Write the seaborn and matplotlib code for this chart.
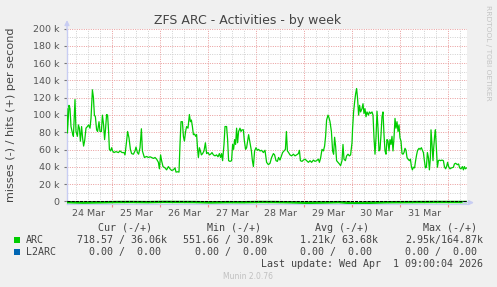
import matplotlib
matplotlib.use("Agg")
import matplotlib.pyplot as plt
import matplotlib.dates as mdates
from matplotlib.ticker import FuncFormatter, MultipleLocator
from matplotlib.patches import Rectangle
import pandas as pd
import seaborn as sns

# ---------------- data ----------------
START = "2026-03-24 01:20"
SPAN_HOURS = 200

hit_hours = [
    0.0, 0.2, 1.0, 1.5, 2.0, 2.7, 3.2, 4.0, 4.5, 5.2,
    5.7, 6.2, 6.7, 7.3, 7.8, 8.3, 8.8, 9.5, 10.2, 10.8,
    11.5, 12.0, 12.7, 13.2, 13.7, 14.2, 14.8, 15.3, 16.0, 16.5,
    17.2, 17.7, 18.3, 18.8, 19.3, 19.8, 20.3, 20.8, 21.2, 21.8,
    22.3, 22.8, 23.5, 24.5, 25.7, 26.5, 27.5, 28.5, 29.0, 29.8,
    30.3, 31.0, 31.7, 32.3, 33.2, 34.0, 34.5, 35.2, 35.8, 36.5,
    37.2, 37.7, 38.2, 38.7, 39.8, 40.7, 41.5, 42.3, 43.2, 44.0,
    44.8, 45.7, 46.2, 46.8, 47.3, 48.0, 49.0, 49.8, 50.7, 51.5,
    52.3, 53.2, 54.0, 54.5, 55.3, 56.0, 56.5, 57.0, 57.7, 58.2,
    58.7, 59.3, 59.8, 60.5, 61.2, 61.7, 62.2, 62.7, 63.2, 63.8,
    64.3, 64.8, 65.3, 65.7, 66.2, 66.7, 67.2, 67.8, 68.5, 69.2,
    69.8, 70.5, 71.2, 71.8, 72.5, 73.2, 74.0, 74.8, 75.5, 76.2,
    76.8, 77.3, 77.8, 78.5, 79.0, 79.8, 80.3, 80.8, 81.5, 82.3,
    82.8, 83.3, 83.8, 84.3, 84.8, 85.3, 85.8, 86.5, 87.0, 87.5,
    88.2, 88.7, 89.3, 89.8, 90.3, 90.8, 91.5, 92.2, 92.7, 93.2,
    93.8, 94.5, 95.2, 95.8, 96.5, 97.3, 98.2, 99.0, 99.8, 100.7,
    101.5, 102.3, 103.2, 103.8, 104.5, 105.2, 105.8, 106.5, 107.2, 107.8,
    108.5, 109.2, 109.7, 110.2, 110.8, 111.5, 112.3, 113.2, 114.0, 114.8,
    115.7, 116.2, 116.7, 117.5, 118.2, 119.0, 119.8, 120.7, 121.5, 122.3,
    123.2, 124.0, 124.8, 125.7, 126.2, 126.8, 127.5, 128.2, 128.8, 129.3,
    129.8, 130.5, 131.0, 131.5, 132.2, 132.8, 133.3, 133.8, 134.3, 134.8,
    135.5, 136.2, 136.8, 137.5, 138.0, 138.5, 139.2, 139.8, 140.5, 141.2,
    141.8, 142.5, 142.8, 143.3, 143.8, 144.3, 144.8, 145.3, 145.8, 146.3,
    146.8, 147.5, 148.0, 148.5, 149.0, 149.5, 150.0, 150.7, 151.2, 151.8,
    152.5, 153.0, 153.5, 154.0, 154.5, 155.0, 155.5, 156.0, 156.5, 157.0,
    157.5, 158.0, 158.5, 159.0, 159.5, 160.0, 160.5, 161.0, 161.5, 162.0,
    162.5, 163.0, 163.5, 164.0, 164.5, 165.0, 165.5, 166.0, 166.5, 167.0,
    167.5, 168.0, 168.5, 169.0, 169.5, 170.0, 170.5, 171.2, 171.7, 172.2,
    172.7, 173.2, 173.8, 174.3, 174.8, 175.3, 176.0, 176.5, 177.2, 177.7,
    178.2, 178.7, 179.2, 179.7, 180.2, 180.7, 181.2, 181.7, 182.0, 182.5,
    183.0, 183.3, 183.8, 184.2, 184.7, 185.2, 185.7, 186.2, 186.8, 187.5,
    188.2, 188.7, 189.3, 189.8, 190.3, 190.8, 191.5, 192.3, 193.2, 193.7,
    194.3, 195.2, 195.8, 196.3, 197.0, 197.7, 198.2, 198.7, 199.2, 199.8,
]
hit_values_k = [
    107.3, 79.1, 111.1, 107.3, 86.6, 79.1, 75.3, 117.8, 80.9, 75.3,
    88.5, 84.7, 69.7, 86.6, 73.4, 64.0, 69.7, 84.7, 86.6, 88.5,
    84.7, 96.0, 129.1, 120.5, 99.8, 97.9, 82.8, 80.9, 92.2, 80.9,
    80.9, 99.8, 88.5, 71.5, 84.7, 100.5, 99.8, 80.9, 60.2, 58.4,
    62.1, 58.4, 56.5, 57.6, 56.5, 58.4, 56.5, 56.5, 53.8, 69.7,
    80.9, 73.4, 60.2, 55.3, 54.6, 58.4, 62.9, 56.5, 54.6, 62.1,
    84.0, 58.4, 54.6, 50.8, 52.0, 50.8, 51.6, 50.8, 49.7, 50.8,
    48.9, 45.2, 37.7, 53.8, 47.1, 40.3, 38.8, 36.5, 40.3, 37.7,
    35.8, 36.5, 38.8, 33.9, 34.3, 33.9, 65.9, 92.2, 92.2, 75.3,
    69.7, 80.9, 86.6, 84.7, 100.5, 92.2, 94.1, 86.6, 77.2, 77.9,
    75.3, 77.2, 60.2, 50.8, 62.1, 58.4, 53.8, 55.3, 58.4, 67.8,
    55.3, 56.5, 53.8, 54.6, 56.5, 53.8, 52.7, 53.8, 51.6, 55.3,
    50.8, 55.3, 47.1, 65.9, 86.6, 86.6, 71.5, 47.1, 46.3, 47.1,
    65.9, 60.2, 71.5, 65.9, 84.7, 67.8, 80.9, 84.7, 80.9, 82.8,
    82.8, 69.7, 60.2, 62.1, 69.7, 77.2, 67.8, 58.4, 47.1, 40.3,
    58.4, 62.1, 59.1, 60.2, 58.4, 59.1, 56.5, 59.1, 45.2, 42.5,
    44.1, 50.8, 55.3, 53.8, 47.1, 46.3, 50.8, 47.8, 52.7, 56.5,
    58.4, 60.2, 80.9, 58.4, 56.5, 53.8, 52.7, 54.6, 52.7, 53.8,
    55.3, 59.1, 47.1, 46.3, 47.8, 48.9, 47.1, 45.2, 47.1, 45.2,
    47.8, 46.3, 47.1, 48.9, 45.2, 50.1, 60.2, 58.4, 64.0, 75.3,
    94.1, 99.8, 96.8, 92.2, 80.9, 58.4, 54.6, 74.2, 64.0, 47.1,
    45.2, 43.3, 41.4, 47.1, 65.9, 48.9, 47.1, 52.7, 54.6, 52.7,
    53.8, 67.8, 84.7, 103.5, 114.8, 124.2, 130.6, 118.6, 99.8, 111.1,
    103.5, 107.3, 113.0, 101.7, 107.3, 97.9, 103.5, 99.8, 103.5, 101.7,
    103.5, 99.8, 73.4, 54.6, 73.4, 104.3, 84.7, 58.4, 60.2, 77.2,
    97.9, 103.5, 77.2, 58.4, 54.6, 71.5, 69.7, 58.4, 71.5, 65.9,
    75.3, 58.4, 73.4, 96.0, 84.7, 92.2, 80.9, 88.5, 73.4, 69.7,
    55.3, 54.6, 56.5, 61.4, 59.1, 50.8, 48.9, 47.1, 48.9, 40.3,
    36.5, 39.5, 38.8, 47.1, 53.8, 59.1, 61.4, 60.2, 62.1, 59.1,
    56.5, 47.1, 38.8, 39.5, 56.5, 50.8, 36.5, 50.8, 82.8, 65.9,
    47.1, 60.2, 75.3, 82.8, 62.1, 39.5, 47.1, 47.8, 47.1, 47.8,
    47.1, 40.3, 37.7, 40.3, 45.2, 40.3, 37.7, 38.8, 39.5, 43.3,
    44.1, 42.5, 43.3, 38.8, 37.7, 40.3, 36.5, 40.3, 37.7, 38.8,
]

miss_hours = [0, 8, 16, 24, 32, 40, 48, 56, 64, 72, 80, 88, 96,
              104, 112, 120, 128, 136, 144, 152, 160, 168, 176, 184, 192, 200]
miss_values_k = [0.9, 1.4, 1.1, 0.8, 0.7, 0.9, 0.6, 0.7, 0.8, 1.2, 0.9, 1.0, 0.7,
                 0.8, 1.1, 1.6, 1.3, 0.9, 2.2, 1.5, 1.0, 0.9, 0.8, 0.7, 0.7, 0.72]

legend_names = ["ARC", "L2ARC"]
legend_colors = ["#00CC00", "#0066B3"]
col_headers = ["Cur (-/+)", "Min (-/+)", "Avg (-/+)", "Max (-/+)"]
arc_stats = ["718.57 / 36.06k", "551.66 / 30.89k", "1.21k/ 63.68k", "2.95k/164.87k"]
l2arc_stats = ["0.00 /  0.00 ", "0.00 /  0.00 ", "0.00 /  0.00 ", "0.00 /  0.00 "]
last_update = "Last update: Wed Apr  1 09:00:04 2026"
title = "ZFS ARC - Activities - by week"
ylabel = "misses (-) / hits (+) per second"

# ---------------- figure ----------------
sns.set_style("white")
plt.rcParams["font.family"] = ["DejaVu Sans"]

W, H = 497, 287
BG = "#F0F0F0"
fig = plt.figure(figsize=(W / 100, H / 100), dpi=100, facecolor=BG)

def fx(x):
    return x / W

def fy(y):
    return 1 - y / H

YMIN = -3000
ax_left, ax_right, ax_top, ax_bot = 67, 467, 28.5, 204.0
ax = fig.add_axes([fx(ax_left), fy(ax_bot), (ax_right - ax_left) / W, (ax_bot - ax_top) / H])
ax.set_facecolor("white")

start = pd.Timestamp(START)
hits = pd.DataFrame({
    "time": start + pd.to_timedelta(hit_hours, unit="h"),
    "value": [v * 1000 for v in hit_values_k],
})
misses = pd.DataFrame({
    "time": start + pd.to_timedelta(miss_hours, unit="h"),
    "value": [-v * 1000 for v in miss_values_k],
})

sns.lineplot(data=misses, x="time", y="value", ax=ax, color="#00CC00", lw=1.8, zorder=3)
ax.axhline(0, color="black", lw=0.75, ls=(0, (3, 1)), zorder=4)
sns.lineplot(data=hits, x="time", y="value", ax=ax, color="#00CC00", lw=0.9, zorder=5)

ax.set_xlim(start, start + pd.Timedelta(hours=SPAN_HOURS))
ax.set_ylim(YMIN, 200000)

# grids
ax.xaxis.set_major_locator(mdates.DayLocator())
ax.xaxis.set_minor_locator(mdates.HourLocator(byhour=[6, 12, 18]))
ax.xaxis.set_major_formatter(FuncFormatter(lambda x, p: ""))
ax.xaxis.set_minor_formatter(FuncFormatter(
    lambda x, p: mdates.num2date(x).strftime("%d %b") if mdates.num2date(x).hour == 12 else ""))
ax.yaxis.set_major_locator(MultipleLocator(20000))
ax.yaxis.set_minor_locator(MultipleLocator(10000))
ax.yaxis.set_major_formatter(FuncFormatter(lambda v, p: "0" if v == 0 else f"{int(round(v / 1000))} k"))

ax.set_axisbelow(True)
ax.grid(which="minor", color="#d0d0d0", lw=0.7, ls=(0, (1, 1.4)))
ax.grid(which="major", color="#e99a9a", lw=0.7, ls=(0, (1, 1.4)))

ax.tick_params(axis="y", which="major", length=2.2, width=0.8, color="#777777",
               labelsize=6.8, labelcolor="#555555", pad=3.3, direction="out", left=True)
ax.tick_params(axis="y", which="minor", length=0)
ax.tick_params(axis="x", which="major", length=2.3, width=0.8, color="#ee8888",
               direction="out", bottom=True)
ax.tick_params(axis="x", which="minor", length=0, labelsize=6.8, labelcolor="#555555", pad=3.8)

ax.set_xlabel("")
ax.set_ylabel("")
axis_col = "#c8cdf3"
for s in ["top", "right"]:
    ax.spines[s].set_visible(False)
ax.spines["left"].set_color(axis_col)
ax.spines["left"].set_linewidth(1.0)
ax.spines["bottom"].set_color(axis_col)
ax.spines["bottom"].set_linewidth(0.8)

ax.annotate("", xy=(0, 1.048), xycoords="axes fraction", xytext=(0, 0.99),
            arrowprops=dict(arrowstyle="-|>", color=axis_col, lw=1.0, mutation_scale=7,
                            shrinkA=0, shrinkB=0), annotation_clip=False)
ax.annotate("", xy=(1.0175, 0.008), xycoords="axes fraction", xytext=(0.99, 0.008),
            arrowprops=dict(arrowstyle="-|>", color=axis_col, lw=1.0, mutation_scale=7,
                            shrinkA=0, shrinkB=0), annotation_clip=False)

# texts
fig.text(fx(248), fy(24), title, ha="center", va="baseline", fontsize=9, color="#444444")
fig.text(fx(11), fy(114.5), ylabel, ha="center", va="center", rotation=90, fontsize=8.1, color="#444444")
fig.text(fx(488), fy(5), "RRDTOOL / TOBI OETIKER", ha="center", va="top", rotation=270,
         fontsize=5.4, color="#c4c4c4")

mono = "DejaVu Sans Mono"
fs = 7.2
tc = "#444444"
header_left = [98, 207, 315, 423]
for x, htxt in zip(header_left, col_headers):
    fig.text(fx(x), fy(230.7), htxt, ha="left", va="baseline", family=mono, fontsize=fs, color=tc)

stat_right = [167, 273, 378, 483]
row_base = [243.3, 255.0]
for i, (name, color, stats) in enumerate(zip(legend_names, legend_colors, [arc_stats, l2arc_stats])):
    yb = row_base[i]
    fig.patches.append(Rectangle((fx(14), fy(yb)), 6 / W, 6 / H, transform=fig.transFigure,
                                 facecolor=color, edgecolor="none"))
    fig.text(fx(26), fy(yb), name, ha="left", va="baseline", family=mono, fontsize=fs, color=tc)
    for x, st in zip(stat_right, stats):
        fig.text(fx(x), fy(yb), st, ha="right", va="baseline", family=mono, fontsize=fs, color=tc)

fig.text(fx(483), fy(266.7), last_update, ha="right", va="baseline", family=mono, fontsize=fs, color=tc)
fig.text(fx(248), fy(279.3), "Munin 2.0.76", ha="center", va="baseline", fontsize=5.5, color="#c0c0c0")

fig.savefig("out.png", dpi=100, facecolor=BG)
